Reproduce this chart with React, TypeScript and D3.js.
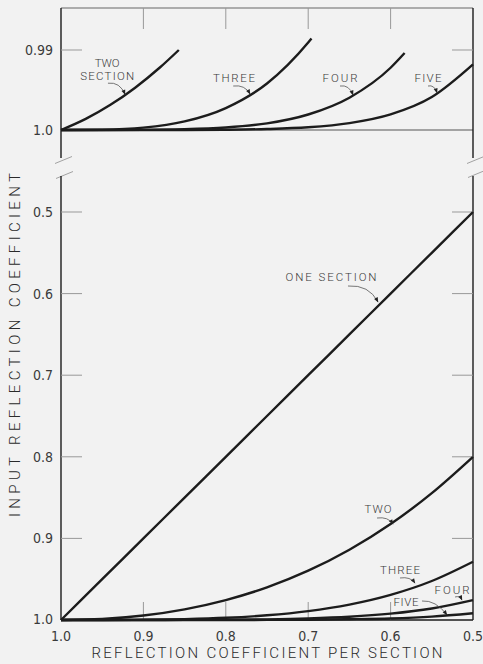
import React from "react";
import * as d3 from "d3";

// reflection coefficient per section (x axis runs 1.0 -> 0.5)
const xBottom = [1.0, 0.95, 0.9, 0.85, 0.8, 0.75, 0.7, 0.65, 0.6, 0.55, 0.5];

// lower panel: input reflection coefficient
const oneSection = [1.0, 0.95, 0.9, 0.85, 0.8, 0.75, 0.7, 0.65, 0.6, 0.55, 0.5];
const twoSection = [1.0, 0.9987, 0.9945, 0.9869, 0.9756, 0.96, 0.9396, 0.9139, 0.8824, 0.8445, 0.8];
const threeSection = [1.0, 1.0, 0.9997, 0.9989, 0.9973, 0.9942, 0.9891, 0.9811, 0.9692, 0.9522, 0.9286];
const fourSection = [1.0, 1.0, 1.0, 0.9999, 0.9997, 0.9992, 0.9981, 0.996, 0.9922, 0.9859, 0.9756];
const fiveSection = [1.0, 1.0, 1.0, 1.0, 1.0, 0.9999, 0.9997, 0.9991, 0.9981, 0.9959, 0.9918];

// upper panel (expanded scale near 1.0)
const topTwoX = [1.0, 0.97, 0.94, 0.91, 0.88, 0.857];
const topTwoY = [1.0, 0.99861, 0.99685, 0.99471, 0.99219, 0.99];
const topThreeX = [1.0, 0.95, 0.9, 0.85, 0.8, 0.75, 0.7, 0.696];
const topThreeY = [1.0, 0.99996, 0.99971, 0.99893, 0.99726, 0.99419, 0.98907, 0.98857];
const topFourX = [1.0, 0.9, 0.85, 0.8, 0.75, 0.7, 0.65, 0.6, 0.583];
const topFourY = [1.0, 0.99998, 0.99991, 0.99969, 0.99917, 0.99806, 0.99596, 0.99222, 0.99038];
const topFiveX = [1.0, 0.85, 0.8, 0.75, 0.7, 0.65, 0.6, 0.55, 0.5];
const topFiveY = [1.0, 1.0, 0.99997, 0.99988, 0.99966, 0.99914, 0.99805, 0.99588, 0.9918];

const xTicks = [1.0, 0.9, 0.8, 0.7, 0.6, 0.5];
const xTickLabels = ["1.0", "0.9", "0.8", "0.7", "0.6", "0.5"];
const bottomYTicks = [0.5, 0.6, 0.7, 0.8, 0.9, 1.0];
const bottomYLabels = ["0.5", "0.6", "0.7", "0.8", "0.9", "1.0"];
const topYTicks = [0.99, 1.0];
const topYLabels = ["0.99", "1.0"];

// curve labels: text anchor, leader start, arrow tip (data coords)
const topNotes = [
  { lines: ["TWO", "SECTION"], w: [25, 54], t: [0.944, 0.99375], s: [0.943, 0.99415], e: [0.9223, 0.99555] },
  { lines: ["THREE"], w: [42], t: [0.79, 0.994], s: [0.791, 0.9945], e: [0.7706, 0.9955] },
  { lines: ["FOUR"], w: [35], t: [0.6614, 0.994], s: [0.6614, 0.9945], e: [0.6456, 0.99562] },
  { lines: ["FIVE"], w: [27], t: [0.5546, 0.994], s: [0.5546, 0.9945], e: [0.5437, 0.99535] },
];
const bottomNotes = [
  { lines: ["ONE SECTION"], w: [91], t: [0.6723, 0.5846], s: [0.6517, 0.5907], e: [0.6153, 0.6103], side: false },
  { lines: ["TWO"], w: [27], t: [0.6153, 0.8689], s: [0.6165, 0.875], e: [0.5971, 0.8824], side: false },
  { lines: ["THREE"], w: [40], t: [0.5886, 0.9436], s: [0.5886, 0.9485], e: [0.5704, 0.9547], side: false },
  { lines: ["FOUR"], w: [35], t: [0.5255, 0.9681], s: [0.5218, 0.9718], e: [0.5134, 0.9755], side: false },
  { lines: ["FIVE"], w: [25], t: [0.5813, 0.9828], s: [0.5619, 0.9767], e: [0.5316, 0.9937], side: true },
];

const W = 483;
const H = 664;
const numFont = "'DejaVu Sans Condensed', 'Liberation Sans Narrow', 'DejaVu Sans', sans-serif";
const letterFont = "Roboto, 'Open Sans', 'DejaVu Sans', sans-serif";
const ink = "#1c1c1c";

export default function App() {
  const x = d3.scaleLinear().domain([1.0, 0.5]).range([61, 473]);
  const yTop = d3.scaleLinear().domain([1.0, 0.99]).range([130, 50]);
  const yBot = d3.scaleLinear().domain([1.0, 0.5]).range([620, 212]);

  const [x0, x1] = x.range();
  const topEdge = 8;
  const topAxisEnd = 158;
  const botAxisStart = 176;

  const line = (ys: d3.ScaleLinear<number, number>) =>
    d3
      .line<[number, number]>()
      .x((d) => x(d[0]))
      .y((d) => ys(d[1]))
      .curve(d3.curveMonotoneX);

  const lineTop = line(yTop);
  const lineBot = line(yBot);

  const zip = (a: number[], b: number[]) => a.map((v, i) => [v, b[i]] as [number, number]);

  const topCurves = [
    zip(topTwoX, topTwoY),
    zip(topThreeX, topThreeY),
    zip(topFourX, topFourY),
    zip(topFiveX, topFiveY),
  ];
  const bottomCurves = [oneSection, twoSection, threeSection, fourSection, fiveSection].map((s) =>
    zip(xBottom, s)
  );

  const leader = (sx: number, sy: number, ex: number, ey: number, side: boolean) => {
    const cx = side ? sx + 0.55 * (ex - sx) : sx + 0.7 * (ex - sx);
    const cy = side ? sy - 1 : sy - 1.5;
    return `M${sx},${sy}Q${cx},${cy} ${ex},${ey}`;
  };

  const renderNotes = (notes: any[], ys: d3.ScaleLinear<number, number>) =>
    notes.map((n, i) => {
      const tx = x(n.t[0]);
      const ty = ys(n.t[1]);
      return (
        <g key={i}>
          {n.lines.map((l: string, j: number) => (
            <text
              key={j}
              x={tx}
              y={ty - (n.lines.length - 1 - j) * 13}
              textAnchor="middle"
              fontFamily={letterFont}
              fontWeight={300}
              fontSize={11.5}
              fill="#3a3a3a"
              textLength={n.w[j]}
              lengthAdjust="spacing"
            >
              {l}
            </text>
          ))}
          <path
            d={leader(x(n.s[0]), ys(n.s[1]), x(n.e[0]), ys(n.e[1]), !!n.side)}
            fill="none"
            stroke="#555"
            strokeWidth={0.8}
            markerEnd="url(#arrow)"
          />
        </g>
      );
    });

  const slash = (cx: number, cy: number, key: string) => (
    <line key={key} x1={cx - 8} y1={cy + 3.5} x2={cx + 9} y2={cy - 3.5} stroke="#999" strokeWidth={0.9} />
  );

  return (
    <svg
      width={W}
      height={H}
      style={{ position: "absolute", left: 0, top: 0 }}
      xmlns="http://www.w3.org/2000/svg"
    >
      <defs>
        <marker
          id="arrow"
          viewBox="0 0 10 10"
          refX={9}
          refY={5}
          markerWidth={7}
          markerHeight={5}
          markerUnits="userSpaceOnUse"
          orient="auto"
        >
          <path d="M0,1L10,5L0,9Z" fill="#222" />
        </marker>
      </defs>
      <rect width={W} height={H} fill="#f2f2f2" />

      {/* upper panel frame */}
      <line x1={x0} x2={x1} y1={topEdge} y2={topEdge} stroke="#666" strokeWidth={1} />
      <line x1={x0} x2={x1} y1={yTop(1.0)} y2={yTop(1.0)} stroke="#555" strokeWidth={1} />
      <line x1={x0} x2={x0} y1={topEdge} y2={topAxisEnd} stroke={ink} strokeWidth={1.4} />
      <line x1={x1} x2={x1} y1={topEdge} y2={topAxisEnd} stroke={ink} strokeWidth={1.4} />
      {xTicks.slice(1, -1).map((t) => (
        <line key={t} x1={x(t)} x2={x(t)} y1={topEdge} y2={topEdge + 21} stroke="#999" strokeWidth={1} />
      ))}
      <line x1={x0} x2={x0 + 21} y1={yTop(0.99)} y2={yTop(0.99)} stroke="#999" strokeWidth={1} />
      <line x1={x1 - 21} x2={x1} y1={yTop(0.99)} y2={yTop(0.99)} stroke="#999" strokeWidth={1} />
      {topYTicks.map((t, i) => (
        <text
          key={t}
          x={53}
          y={yTop(t)}
          dy="0.35em"
          textAnchor="end"
          fontFamily={numFont}
          fontSize={14}
          fill="#3a3a3a"
        >
          {topYLabels[i]}
        </text>
      ))}

      {/* axis break marks */}
      {slash(x0 + 2, 160, "l1")}
      {slash(x0 + 3, 175, "l2")}
      {slash(x1 + 2, 160, "r1")}
      {slash(x1 + 3, 174, "r2")}

      {/* lower panel frame */}
      <line x1={x0} x2={x0} y1={botAxisStart} y2={yBot(1.0)} stroke={ink} strokeWidth={1.4} />
      <line x1={x1} x2={x1} y1={botAxisStart} y2={yBot(1.0)} stroke={ink} strokeWidth={1.4} />
      <line x1={x0} x2={x1} y1={yBot(1.0)} y2={yBot(1.0)} stroke={ink} strokeWidth={1.4} />
      {bottomYTicks.slice(0, -1).map((t) => (
        <g key={t}>
          <line x1={x0} x2={x0 + 21} y1={yBot(t)} y2={yBot(t)} stroke="#999" strokeWidth={1} />
          <line x1={x1 - 21} x2={x1} y1={yBot(t)} y2={yBot(t)} stroke="#999" strokeWidth={1} />
        </g>
      ))}
      {xTicks.slice(1, -1).map((t) => (
        <line key={t} x1={x(t)} x2={x(t)} y1={yBot(1.0)} y2={yBot(1.0) - 18} stroke="#999" strokeWidth={1} />
      ))}
      {bottomYTicks.map((t, i) => (
        <text
          key={t}
          x={53}
          y={yBot(t) - (t === 1.0 ? 1 : 0)}
          dy="0.35em"
          textAnchor="end"
          fontFamily={numFont}
          fontSize={14}
          fill="#3a3a3a"
        >
          {bottomYLabels[i]}
        </text>
      ))}
      {xTicks.map((t, i) => (
        <text
          key={t}
          x={x(t)}
          y={641}
          textAnchor="middle"
          fontFamily={numFont}
          fontSize={14}
          fill="#3a3a3a"
        >
          {xTickLabels[i]}
        </text>
      ))}

      {/* curves */}
      {topCurves.map((c, i) => (
        <path key={"t" + i} d={lineTop(c) || ""} fill="none" stroke={ink} strokeWidth={2.4} />
      ))}
      {bottomCurves.map((c, i) => (
        <path key={"b" + i} d={lineBot(c) || ""} fill="none" stroke={ink} strokeWidth={2.4} />
      ))}

      {renderNotes(topNotes, yTop)}
      {renderNotes(bottomNotes, yBot)}

      {/* axis titles */}
      <text
        x={267}
        y={658}
        textAnchor="middle"
        fontFamily={letterFont}
        fontWeight={300}
        fontSize={15}
        fill="#2a2a2a"
        textLength={351}
        lengthAdjust="spacing"
      >
        REFLECTION COEFFICIENT PER SECTION
      </text>
      <text
        transform="translate(20,345) rotate(-90)"
        textAnchor="middle"
        fontFamily={letterFont}
        fontWeight={300}
        fontSize={15}
        fill="#2a2a2a"
        textLength={344}
        lengthAdjust="spacing"
      >
        INPUT REFLECTION COEFFICIENT
      </text>
    </svg>
  );
}
